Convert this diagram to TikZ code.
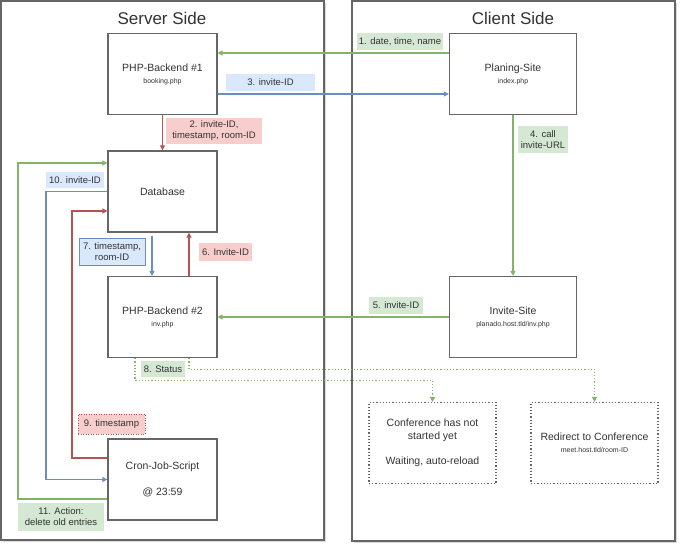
\documentclass[tikz,border=0pt]{standalone}
\usepackage{fontspec}
\setmainfont{Liberation Sans}
\usetikzlibrary{arrows.meta,shadows}
\definecolor{gline}{HTML}{82B366}
\definecolor{gfill}{HTML}{D5E8D4}
\definecolor{bline}{HTML}{6C8EBF}
\definecolor{bfill}{HTML}{DAE8FC}
\definecolor{rline}{HTML}{B85450}
\definecolor{rfill}{HTML}{F8CECC}
\definecolor{boxline}{HTML}{666666}
\definecolor{txt}{HTML}{333333}
\begin{document}
\begin{tikzpicture}[x=1pt,y=-1pt,
  panel/.style={draw=boxline,line width=1.2pt,fill=white,inner sep=0pt,
    drop shadow={opacity=0.3,shadow xshift=2pt,shadow yshift=-2pt}},
  ptitle/.style={font=\fontsize{17}{20}\selectfont,text=txt,inner sep=0pt},
  comp/.style={draw=boxline,line width=1.3pt,fill=white,minimum width=109pt,minimum height=81pt,
    inner sep=0pt,align=center,font=\fontsize{10.5}{13}\selectfont,text=txt},
  wide/.style={minimum width=127pt},
  outbox/.style={comp,wide,draw=boxline,dash pattern=on 1.2pt off 2pt,line width=1.1pt},
  lbl/.style={fill=#1,inner sep=1pt,align=center,font=\fontsize{9.5}{11}\selectfont,text=txt},
  arr/.style={-{Triangle[length=5pt,width=5pt]},line width=1.3pt},
  garr/.style={arr,draw=gline},
  barr/.style={arr,draw=bline},
  rarr/.style={arr,draw=rline},
  gdot/.style={garr,dash pattern=on 1.2pt off 2pt}
]
\newcommand{\sm}[1]{{\fontsize{7}{9}\selectfont #1}}
\useasboundingbox (0,0) rectangle (686,551);
% panels
\node[panel,minimum width=323pt,minimum height=539pt] (server) at (162.5,270.5) {};
\node[panel,minimum width=323pt,minimum height=540pt] (client) at (513.5,271) {};
\node[ptitle] (servert) at (162,18) {Server Side};
\node[ptitle] (clientt) at (513,18) {Client Side};
% components
\node[comp] (php1) at (162.5,74) {PHP-Backend \#1\\[-1pt]\sm{booking.php}};
\node[comp,wide] (plan) at (513,74) {Planing-Site\\[-1pt]\sm{index.php}};
\node[comp] (db) at (162.5,191.5) {Database};
\node[comp] (php2) at (162.5,317) {PHP-Backend \#2\\[-1pt]\sm{inv.php}};
\node[comp,wide] (invite) at (513,317) {Invite-Site\\[-1pt]\sm{planado.host.tld/inv.php}};
\node[comp] (cron) at (162.5,479.5) {Cron-Job-Script\\[13pt]@ 23:59};
\node[outbox] (conf) at (432.5,443) {Conference has not\\started yet\\[12pt]Waiting, auto-reload};
\node[outbox] (redir) at (594.5,443) {Redirect to Conference\\[-1pt]\sm{meet.host.tld/room-ID}};
% connectors
\draw[garr] ([yshift=21pt]plan.west) -- ([yshift=21pt]php1.east);
\draw[barr] ([yshift=-20pt]php1.east) -- ([yshift=-20pt]plan.west);
\draw[rarr] (php1.south) -- (db.north);
\draw[garr] (plan.south) -- (invite.north);
\draw[garr] (invite.west) -- (php2.east);
\draw[rarr] ([xshift=26.5pt]php2.north) -- ([xshift=26.5pt]db.south);
\draw[barr,shorten <=3pt] ([xshift=-10.5pt]db.south) -- ([xshift=-10.5pt]php2.north);
\draw[gdot] ([xshift=-27.5pt]php2.south) -- ++(0,22) -| (conf.north);
\draw[gdot] ([xshift=26.5pt]php2.south) -- ++(0,11) -| (redir.north);
\draw[rarr] ([yshift=21.5pt]cron.west) -- ++(-35.5,0) |- ([yshift=-19.5pt]db.west);
\draw[barr] (db.west) -- ++(-61.5,0) |- (cron.west);
\draw[garr] ([yshift=-19.5pt]cron.west) -- ++(-89.5,0) |- ([yshift=28.5pt]db.west);
% labels
\node[lbl=gfill,minimum width=86pt,minimum height=17pt] (l1) at (400,42) {1. date, time, name};
\node[lbl=rfill,minimum width=96pt,minimum height=26pt] (l2) at (214,131) {2. invite-ID,\\timestamp, room-ID};
\node[lbl=bfill,minimum width=89pt,minimum height=17pt] (l3) at (270.5,82.5) {3. invite-ID};
\node[lbl=gfill,minimum width=50pt,minimum height=27pt] (l4) at (543,139.5) {4. call\\invite-URL};
\node[lbl=gfill,minimum width=54pt,minimum height=17pt] (l5) at (396,305.5) {5. invite-ID};
\node[lbl=rfill,minimum width=53pt,minimum height=18pt] (l6) at (225.5,252) {6. Invite-ID};
\node[lbl=bfill,draw=bline,line width=0.6pt,minimum width=66pt,minimum height=27pt] (l7) at (112,251.5) {7. timestamp,\\room-ID};
\node[lbl=gfill,minimum width=44pt,minimum height=16pt] (l8) at (163,369) {8. Status};
\node[lbl=rfill,draw=rline,dash pattern=on 1pt off 1.5pt,line width=0.6pt,minimum width=67pt,minimum height=20pt] (l9) at (111.5,424) {9. timestamp};
\node[lbl=bfill,minimum width=58pt,minimum height=16pt] (l10) at (75,180) {10. invite-ID};
\node[lbl=gfill,minimum width=86pt,minimum height=28pt] (l11) at (61,517) {11. Action:\\delete old entries};
\end{tikzpicture}
\end{document}
